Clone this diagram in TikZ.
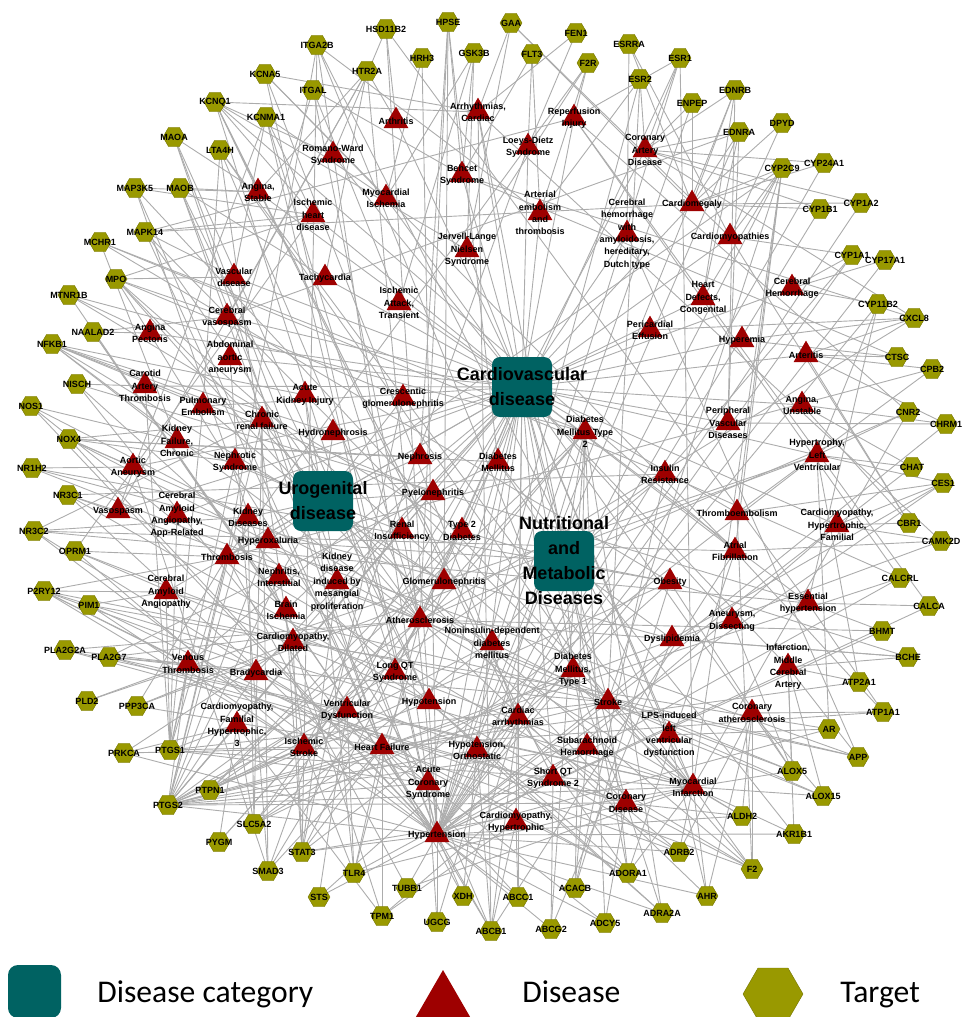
\documentclass[tikz,border=0pt]{standalone}
\usepackage{fontspec}
\newfontfamily\labfont{Liberation Sans}
\newfontfamily\legfont{Carlito}
\usepackage{tikz}
\usetikzlibrary{shapes.geometric,backgrounds}
\usepackage{xcolor}
\definecolor{catteal}{RGB}{0,98,98}
\definecolor{disred}{RGB}{158,0,0}
\definecolor{tarolive}{RGB}{153,153,0}
\definecolor{edgegray}{RGB}{172,172,172}
\tikzset{
  target/.style={regular polygon, regular polygon sides=6, minimum size=11pt, inner sep=0pt, fill=tarolive, draw=tarolive!75!black, line width=0.2pt},
  disease/.style={regular polygon, regular polygon sides=3, minimum size=14.4pt, inner sep=0pt, fill=disred},
  category/.style={rectangle, rounded corners=4pt, minimum size=30pt, inner sep=0pt, fill=catteal},
  nlab/.style={font=\labfont\bfseries\fontsize{4.5}{6.2}\selectfont, align=center, inner sep=0pt},
  clab/.style={font=\labfont\bfseries\fontsize{9}{12.5}\selectfont, align=center, inner sep=0pt},
  leglab/.style={anchor=base west, inner sep=0pt, font=\legfont\fontsize{15.8}{18}\selectfont},
  edge/.style={draw=edgegray, line width=0.45pt}
}

\begin{document}
\begin{tikzpicture}[x=0.5pt,y=-0.5pt]
\useasboundingbox (0,0) rectangle (963,1017);

% categories
\node[category] (cvd) at (522,387) {};
\node[clab] at (cvd) {Cardiovascular\\disease};
\node[category] (uro) at (323,501) {};
\node[clab] at (uro) {Urogenital\\disease};
\node[category] (nutr) at (564,561) {};
\node[clab] at (nutr) {Nutritional\\and\\Metabolic\\Diseases};

% diseases
\foreach \n/\x/\y/\l in {
  angst/258/192/{Angina,\\Stable}, ihd/313/215/{Ischemic\\heart\\disease},
  rws/333/155/{Romano-Ward\\Syndrome}, vasd/234/277/{Vascular\\disease},
  tach/325/278/{Tachycardia}, cvsp/227/317/{Cerebral\\vasospasm},
  arth/396/121/{Arthritis}, arrc/478/112/{Arrhythmias,\\Cardiac},
  rep/574/118/{Reperfusion\\Injury}, ldz/528/147/{Loeys-Dietz\\Syndrome},
  beh/462/175/{Behcet\\Syndrome}, cad/645/150/{Coronary\\Artery\\Disease},
  myi/386/198/{Myocardial\\Ischemia}, aet/540/213/{Arterial\\embolism\\and\\thrombosis},
  chad/627/234/{Cerebral\\hemorrhage\\with\\amyloidosis,\\hereditary,\\Dutch type},
  jln/467/250/{Jervell-Lange\\Nielsen\\Syndrome}, iat/399/303/{Ischemic\\Attack,\\Transient},
  cmeg/692/204/{Cardiomegaly}, cmys/730/237/{Cardiomyopathies},
  hdc/703/298/{Heart\\Defects,\\Congenital}, cerh/792/288/{Cerebral\\Hemorrhage},
  pef/650/330/{Pericardial\\Effusion}, anp/150/333/{Angina\\Pectoris},
  aaa/230/358/{Abdominal\\aortic\\aneurysm}, cat/145/386/{Carotid\\Artery\\Thrombosis},
  pemb/203/406/{Pulmonary\\Embolism}, aki/305/395/{Acute\\Kidney Injury},
  crf/262/420/{Chronic\\renal failure}, kfc/177/441/{Kidney\\Failure,\\Chronic},
  nes/235/462/{Nephrotic\\Syndrome}, aoan/133/467/{Aortic\\Aneurysm},
  hyn/333/433/{Hydronephrosis}, vsp/118/511/{Vasospasm},
  caaa/177/515/{Cerebral\\Amyloid\\Angiopathy,\\App-Related}, kdis/248/517/{Kidney\\Diseases},
  hox/268/541/{Hyperoxaluria}, thr/227/557/{Thrombosis},
  nei/279/577/{Nephritis,\\Interstitial}, caa/166/592/{Cerebral\\Amyloid\\Angiopathy},
  bis/286/610/{Brain\\Ischemia}, cmd/293/642/{Cardiomyopathy,\\Dilated},
  kdm/337/582/{Kidney\\disease\\induced by\\mesangial\\proliferation},
  cgn/403/398/{Crescentic\\glomerulonephritis}, nep/420/457/{Nephrosis},
  dm/498/462/{Diabetes\\Mellitus}, dm2/585/432/{Diabetes\\Mellitus Type\\2},
  pyel/433/493/{Pyelonephritis}, ris/402/531/{Renal\\Insufficiency},
  t2d/462/531/{Type 2\\Diabetes}, gn/444/582/{Glomerulonephritis},
  ath/420/620/{Atherosclerosis}, nidd/492/643/{Noninsulin-dependent\\diabetes\\mellitus},
  hyp/742/340/{Hyperemia}, art/806/355/{Arteritis},
  anu/802/405/{Angina,\\Unstable}, pvd/728/423/{Peripheral\\Vascular\\Diseases},
  hlv/817/455/{Hypertrophy,\\Left\\Ventricular}, ins/665/474/{Insulin\\Resistance},
  tem/737/513/{Thromboembolism}, chf/837/525/{Cardiomyopathy,\\Hypertrophic,\\Familial},
  af/735/551/{Atrial\\Fibrillation}, obe/670/582/{Obesity},
  ess/808/603/{Essential\\hypertension}, anud/732/621/{Aneurysm,\\Dissecting},
  dys/672/639/{Dyslipidemia}, imca/788/667/{Infarction,\\Middle\\Cerebral\\Artery},
  coa/752/713/{Coronary\\atherosclerosis}, lps/669/735/{LPS-induced\\left\\ventricular\\dysfunction},
  mi/693/787/{Myocardial\\Infarction}, lqt/395/672/{Long QT\\Syndrome},
  dm1/573/670/{Diabetes\\Mellitus,\\Type 1}, hypo/429/702/{Hypotension},
  vd/347/710/{Ventricular\\Dysfunction}, str/608/702/{Stroke},
  carr/518/717/{Cardiac\\arrhythmias}, hf/382/747/{Heart Failure},
  hoo/477/750/{Hypotension,\\Orthostatic}, sah/587/747/{Subarachnoid\\Hemorrhage},
  acs/428/783/{Acute\\Coronary\\Syndrome}, sqt/553/778/{Short QT\\Syndrome 2},
  cod/626/803/{Coronary\\Disease}, chy/516/822/{Cardiomyopathy,\\Hypertrophic},
  hyt/437/835/{Hypertension}, vth/188/664/{Venous\\Thrombosis},
  bra/256/673/{Bradycardia}, cfh/237/725/{Cardiomyopathy,\\Familial\\Hypertrophic,\\3},
  isk/304/747/{Ischemic\\Stroke}}
{
  \node[disease] (\n) at (\x,\y) {};
  \node[nlab] at (\n.center) {\l};
}

% targets
\foreach \n/\x/\y in {
  ITGA2B/317/45, KCNA5/265/74, ITGAL/313/90, KCNQ1/215/102, KCNMA1/266/117,
  MAOA/174/137, LTA4H/220/150, MAP3K5/135/188, MAOB/180/188, MAPK14/145/232,
  MCHR1/100/242, MPO/116/279, MTNR1B/69/295, NAALAD2/93/332, NFKB1/52/344,
  NISCH/77/384, NOS1/31/406, NOX4/69/439, NR1H2/32/468, NR3C1/68/495,
  NR3C2/34/531, OPRM1/75/551, P2RY12/44/591, PIM1/89/605, PLA2G2A/65/650,
  PLA2G7/109/657, PLD2/87/701, PPP3CA/137/706, PRKCA/124/753, PTGS1/170/750,
  PTPN1/210/790, PTGS2/168/805, SLC5A2/254/824, PYGM/219/842, STAT3/302/852,
  SMAD3/268/871, STS/319/897, TLR4/354/873, TUBB1/407/888, TPM1/382/916,
  XDH/463/896, UGCG/437/922, ABCB1/491/931, ABCC1/518/897, ABCG2/551/929,
  ACACB/575/888, ADCY5/605/923, ADORA1/628/873, ADRA2A/662/913, AHR/707/896,
  ADRB2/679/852, F2/752/869, ALDH2/742/816, AKR1B1/794/834, ALOX15/823/796,
  ALOX5/792/771, APP/858/757, AR/829/729, ATP1A1/883/712, ATP2A1/859/682,
  BCHE/908/657, BHMT/882/631, CALCA/929/606, CALCRL/900/578, CAMK2D/941/541,
  CBR1/909/523, CES1/943/483, CHAT/912/467, CHRM1/946/424, CNR2/908/412,
  CPB2/932/369, CTSC/897/357, CXCL8/914/318, CYP11B2/878/304, CYP17A1/885/260,
  CYP1A1/852/255, CYP1A2/861/203, CYP1B1/820/209, CYP24A1/824/163, CYP2C9/782/168,
  DPYD/782/123, EDNRA/739/132, EDNRB/735/90, ENPEP/692/103, ESR1/680/58,
  ESR2/640/79, ESRRA/629/44, F2R/588/63, FEN1/576/33, FLT3/532/54,
  GAA/511/23, GSK3B/474/53, HPSE/448/22, HRH3/422/58, HSD11B2/386/29, HTR2A/367/71}
{
  \node[target] (\n) at (\x,\y) {};
  \node[nlab] at (\n.center) {\n};
}

% connectors
\begin{scope}[on background layer]
\foreach \d in {angst,ihd,rws,vasd,tach,cvsp,arth,arrc,rep,ldz,beh,cad,myi,aet,chad,jln,iat,
  cmeg,cmys,hdc,cerh,pef,anp,aaa,cat,pemb,aoan,vsp,caaa,thr,caa,bis,cmd,ath,hyp,art,anu,pvd,
  hlv,tem,chf,af,ess,anud,imca,coa,lps,mi,lqt,hypo,vd,str,carr,hf,hoo,sah,acs,sqt,cod,chy,
  hyt,vth,bra,cfh,isk}
  \draw[edge] (cvd.center) -- (\d.center);
\foreach \d in {aki,crf,kfc,nes,hyn,cgn,nep,pyel,ris,gn,kdis,hox,nei,kdm}
  \draw[edge] (uro.center) -- (\d.center);
\foreach \d in {dm,dm2,t2d,nidd,dm1,ins,obe,dys,hox}
  \draw[edge] (nutr.center) -- (\d.center);
\foreach \t/\l in {
  KCNQ1/{rws,jln,lqt,sqt,arrc,carr,af,ihd,angst}, KCNA5/{af,arrc,carr,hyt,myi},
  KCNMA1/{hyt,vsp,ihd,myi,ath,vasd}, ITGA2B/{thr,mi,cod,acs,isk,aet},
  ITGAL/{ath,iat,aaa,beh}, MAOA/{hyt,hypo,hf,angst}, LTA4H/{ath,mi,str,isk,pemb},
  MAP3K5/{hf,mi,cmd,ihd,angst}, MAOB/{hyt,hf,angst,hypo,tach},
  MAPK14/{hf,mi,ath,ihd,rep,cmeg,vasd}, MCHR1/{obe,dm2,ins,kfc},
  MPO/{ath,cod,mi,vasd,ihd,acs,cvsp,cgn}, MTNR1B/{dm2,t2d,hyt,anp},
  NAALAD2/{hyt,bis,cvsp,anp}, NFKB1/{ath,crf,kfc,aki,pyel,gn,pemb,hyn},
  NISCH/{hyt,ess,hypo,cat}, NOS1/{hyt,str,bis,kfc}, NOX4/{hyt,kdis,crf,ath,dm,aoan,nes,nep},
  NR1H2/{ath,dys,obe,aoan}, NR3C1/{hyt,hypo,ath,ins,vsp}, NR3C2/{hyt,hf,crf,kdis,af,ess},
  OPRM1/{hypo,mi,isk,ihd,thr}, P2RY12/{thr,mi,acs,str,isk,cod,vth,caa},
  PIM1/{hf,cmd,hyt,caa}, PLA2G2A/{ath,cod,mi,vth}, PLA2G7/{ath,cod,str,mi,dm,bra},
  PLD2/{hlv,vth}, PPP3CA/{hlv,cmd,hf,thr}, PRKCA/{hf,cmd,hyt,cfh},
  PTGS1/{thr,mi,str,vth,acs,isk,cfh,pemb,cat,caa,caaa,nes},
  PTGS2/{hyt,hf,ath,mi,str,cod,isk,thr,vth,bra,cfh,kdis,nei,crf,ris,acs,hoo,vd,carr,sah,lqt,hypo,pyel,hox},
  PTPN1/{obe,dm2,ins,t2d,nidd,isk}, SLC5A2/{dm2,t2d,hf,nidd,crf,kdis,dm1,cfh},
  PYGM/{dm2,isk,cfh}, STAT3/{hf,hlv,cmd,ath,hyt,mi,isk,bis,kdm,cgn},
  SMAD3/{ath,aaa,ldz,aoan,crf,hf}, STS/{hyt,obe,vd}, TLR4/{ath,mi,hf,isk,aki,sah,vd},
  TUBB1/{thr,mi,hyt}, TPM1/{cmd,chy,chf,cfh,hf}, XDH/{hyt,hf,hoo,carr},
  UGCG/{dm2,hyt,acs}, ABCB1/{hyt,arrc,af,hf,acs,carr,chy,hoo}, ABCC1/{hyt,hf,chy,carr},
  ABCG2/{dys,hyt,dm2,sqt}, ACACB/{dm2,obe,ins,sah}, ADCY5/{dm2,hyt,hf,cod},
  ADORA1/{arrc,af,carr,bra,hypo,mi,hf,str}, ADRA2A/{hyt,hypo,dm2,hoo,cod},
  AHR/{hyt,ath,coa,mi,lps}, ADRB2/{hf,hyt,carr,hypo,coa,mi},
  F2/{thr,vth,str,mi,coa,cod,tem,pemb}, ALDH2/{mi,coa,cod,hyt,ath},
  AKR1B1/{dm,hyt,imca,mi}, ALOX15/{ath,coa,mi,imca,lps}, ALOX5/{ath,mi,coa,str,imca,anud,obe},
  APP/{caa,caaa,chad,str,imca}, AR/{hyt,cmd,hlv,lps}, ATP1A1/{hf,af,ess,coa},
  ATP2A1/{hf,hlv,imca}, BCHE/{ath,dys,obe,imca}, BHMT/{hyt,ath,ess}, CALCA/{hyt,ess,rep},
  CALCRL/{hyt,ins,hf,rep}, CAMK2D/{hf,af,arrc,chf}, CBR1/{cmys,chf,art,anu},
  CES1/{hyt,dys,chf,hlv,tem}, CHAT/{hyt,anu,hlv}, CHRM1/{hyt,anu,art,pvd},
  CNR2/{ath,mi,rep,hlv}, CPB2/{thr,tem,art}, CTSC/{art,beh,hyp},
  CXCL8/{ath,beh,art,hyp,cad,pef}, CYP11B2/{hyt,ess,hlv,cerh}, CYP17A1/{hyt,cerh},
  CYP1A1/{hyt,cmys,cerh,ins}, CYP1A2/{hyt,cmeg,cad}, CYP1B1/{hyt,cmeg,cad},
  CYP24A1/{hyt,cmeg,cad}, CYP2C9/{hyt,af,str,thr,mi,cmys,hdc,tem,cmeg},
  DPYD/{cmys,cmeg}, EDNRA/{hyt,pvd,hdc,cmeg,cad,cvsp}, EDNRB/{hyt,hdc,pvd,cad,cmeg},
  ENPEP/{hyt,cad,cmeg}, ESR1/{cad,hyt,mi,ath,rep}, ESR2/{hyt,cad,str,aet},
  ESRRA/{cmys,cmeg,chad}, F2R/{thr,rep,aet,jln}, FEN1/{arrc,ldz}, FLT3/{aet,ldz,beh},
  GAA/{cmeg,cmys,arrc,jln}, GSK3B/{myi,beh,jln,iat}, HPSE/{ath,dm,beh,nep,gn},
  HRH3/{hyt,myi}, HSD11B2/{hyt,ess,arth,rws}, HTR2A/{hyt,vsp,cvsp,angst,arth,tach}}
{
  \foreach \d in \l {\draw[edge] (\t.center) -- (\d.center);}
}
\end{scope}

% legend
\node[category, minimum size=26.5pt, rounded corners=5pt] (legcatbox) at (34.5,991.5) {};
\node[leglab] (legcat) at (97,1002) {Disease category};
\node[disease, minimum size=36pt] (legdis) at (443,1006) {};
\node[leglab] (legdislab) at (522,1002) {Disease};
\node[target, minimum size=30pt] (legtar) at (773,994) {};
\node[leglab] (legtarlab) at (840,1002) {Target};
\end{tikzpicture}
\end{document}
